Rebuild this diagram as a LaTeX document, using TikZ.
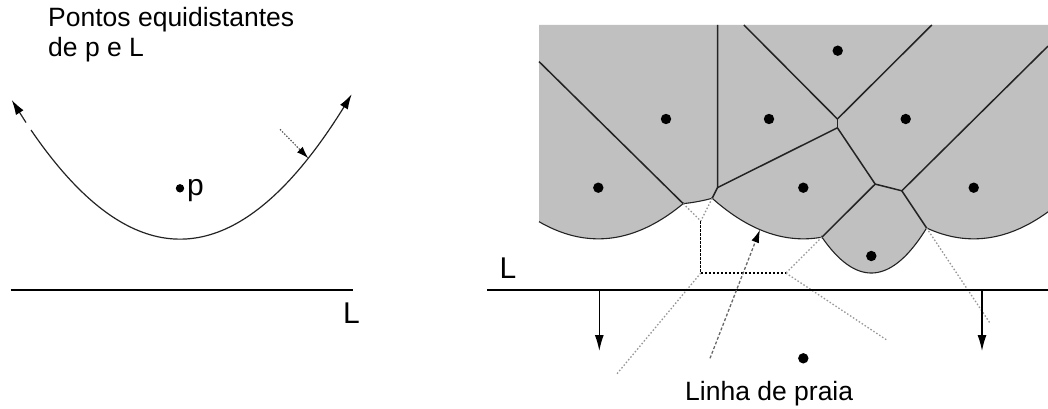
\documentclass[tikz,border=0pt]{standalone}
\usepackage{fontspec}
\setmainfont{Liberation Sans}
\usetikzlibrary{arrows.meta}
\definecolor{cellgray}{RGB}{192,192,192}
\definecolor{edgecol}{RGB}{35,35,35}
\definecolor{dotgray}{RGB}{150,150,150}
\definecolor{dashgray}{RGB}{105,105,105}
\begin{document}
\begin{tikzpicture}[x=1pt,y=-1pt,
  declare function={
    pL(\x)=239.15-((\x-180)/10)*((\x-180)/10)/2.034;
    pa(\x)=238.85-((\x-598.3)/10)*((\x-598.3)/10)/2.046;
    pb(\x)=204.5-((\x-666)/10)*((\x-666)/10)/3.42;
    pf(\x)=238.85-((\x-803.3)/10)*((\x-803.3)/10)/2.046;
    pg(\x)=273-((\x-871.3)/10)*((\x-871.3)/10)/0.68;
    ph(\x)=238.85-((\x-973.7)/10)*((\x-973.7)/10)/2.046;
  },
  txt/.style={inner sep=0pt, anchor=base west, font=\fontsize{26.5}{30}\selectfont},
  big/.style={inner sep=0pt, anchor=base west, font=\fontsize{30}{34}\selectfont},
  vedge/.style={draw=edgecol, line width=1.5pt},
  beach/.style={draw=edgecol, line width=1.1pt},
  sweep/.style={draw=black, line width=1.4pt},
  downarrow/.style={draw=black, line width=1.3pt, -{Latex[length=16pt,width=9pt]}},
  gdot/.style={draw=dotgray, line width=1.3pt, dash pattern=on 1.5pt off 2pt},
  bdash/.style={draw=black, line width=1.3pt, dash pattern=on 2.5pt off 1.5pt},
  garrow/.style={draw=dashgray, line width=1.3pt, dash pattern=on 3pt off 2pt, -{Latex[length=13pt,width=8pt,color=black]}},
  curvearrow/.style={draw=edgecol, line width=1.2pt, -{Latex[length=15pt,width=9pt,color=black]}},
]
\useasboundingbox (0,0) rectangle (1048,409);

% ---------------- left diagram ----------------
\node[txt] (t1) at (48,26.7) {Pontos equidistantes};
\node[txt] (t2) at (48,56.7) {de p e L};

\draw[curvearrow] plot[domain=31:351.7, samples=90] (\x,{pL(\x)});
\draw[curvearrow] (26,{pL(26)}) -- (11.7,{pL(11.7)});

\coordinate (lq) at (280,129.3);
\coordinate (lr) at (308.3,{pL(308.3)});
\draw[line width=1.2pt, draw=black!65, dash pattern=on 1.5pt off 1.5pt, -{Latex[length=12pt,width=8pt,color=black]}] (lq) -- (lr);

\coordinate (p) at (180,188.3);
\fill (p) circle (4.2pt);
\node[big] (plab) at (187,195) {p};

\coordinate (LL1) at (10.7,290);
\coordinate (LL2) at (352.7,290);
\draw[sweep] (LL1) -- (LL2);
\node[big] (Lleft) at (343,323.3) {L};

% ---------------- right diagram ----------------
% sites
\coordinate (S1) at (598.3,187.7);
\coordinate (S2) at (666,119);
\coordinate (S3) at (837.7,50.7);
\coordinate (S4) at (769,119);
\coordinate (S5) at (905.7,119);
\coordinate (S6) at (803.3,187.7);
\coordinate (S7) at (871.3,256);
\coordinate (S8) at (973.7,187.7);
\coordinate (S9) at (803.3,358.3);

% Voronoi vertices and breakpoints
\coordinate (A)   at (539,61.6);
\coordinate (B12) at (683.2,{pa(683.2)});
\coordinate (B26) at (712.17,{pb(712.17)});
\coordinate (B67) at (821.9,{pf(821.9)});
\coordinate (B78) at (926.6,{ph(926.6)});
\coordinate (V1)  at (717.5,187.6);
\coordinate (V2)  at (837.4,119.0);
\coordinate (V3)  at (837.4,127.8);
\coordinate (V4)  at (875.2,184.1);
\coordinate (V5)  at (901.8,190.8);
\coordinate (T1)  at (717.5,25);
\coordinate (T2)  at (743.9,25);
\coordinate (T3)  at (931.8,25);
\coordinate (R1)  at (1048,46.1);

% cells
\fill[cellgray] (539,25) -- (539,{pa(539)})
  -- plot[domain=539:683.2, samples=40] (\x,{pa(\x)})
  -- plot[domain=683.2:712.17, samples=15] (\x,{pb(\x)})
  -- plot[domain=712.17:821.9, samples=40] (\x,{pf(\x)})
  -- plot[domain=821.9:926.6, samples=40] (\x,{pg(\x)})
  -- plot[domain=926.6:1048, samples=40] (\x,{ph(\x)})
  -- (1048,25) -- cycle;

% beach line
\draw[beach] plot[domain=539:683.2, samples=40] (\x,{pa(\x)})
  -- plot[domain=683.2:712.17, samples=15] (\x,{pb(\x)})
  -- plot[domain=712.17:821.9, samples=40] (\x,{pf(\x)})
  -- plot[domain=821.9:926.6, samples=40] (\x,{pg(\x)})
  -- plot[domain=926.6:1048, samples=40] (\x,{ph(\x)});

% Voronoi edges
\draw[vedge] (A) -- (B12);
\draw[vedge] (T1) -- (V1) -- (B26);
\draw[vedge] (T2) -- (V2);
\draw[vedge] (T3) -- (V2);
\draw[vedge] (V2) -- (V3);
\draw[vedge] (V3) -- (V1);
\draw[vedge] (V3) -- (V4);
\draw[vedge] (V4) -- (V5);
\draw[vedge] (V4) -- (B67);
\draw[vedge] (V5) -- (B78);
\draw[vedge] (V5) -- (R1);

% future edges
\coordinate (C)  at (700.8,221.0);
\coordinate (D1) at (700.8,273);
\coordinate (D2) at (785.9,273);
\coordinate (E1) at (616.8,374);
\coordinate (E2) at (887.3,340.4);
\coordinate (E3) at (989.7,322.7);
\draw[gdot] (B12) -- (C);
\draw[gdot] (B26) -- (C);
\draw[gdot] (D1) -- (E1);
\draw[gdot] (B67) -- (D2);
\draw[gdot] (D2) -- (E2);
\draw[gdot] (B78) -- (E3);
\draw[bdash] (C) -- (D1) -- (D2);

% sweep line
\coordinate (LR1) at (487.3,290);
\coordinate (LR2) at (1048,290);
\draw[sweep] (LR1) -- (LR2);
\node[big] (Lright) at (499.5,278.3) {L};
\coordinate (a1) at (599.3,290);
\coordinate (a1e) at (599.3,351);
\coordinate (a2) at (982,290);
\coordinate (a2e) at (982,351);
\draw[downarrow] (a1) -- (a1e);
\draw[downarrow] (a2) -- (a2e);

% beach line pointer
\coordinate (g0) at (710,358.3);
\coordinate (g1) at (760,{pf(760)});
\draw[garrow] (g0) -- (g1);
\node[txt] (praia) at (685,400) {Linha de praia};

% site dots
\foreach \s in {S1,S2,S3,S4,S5,S6,S7,S8,S9} \fill (\s) circle (5.2pt);
\end{tikzpicture}
\end{document}
